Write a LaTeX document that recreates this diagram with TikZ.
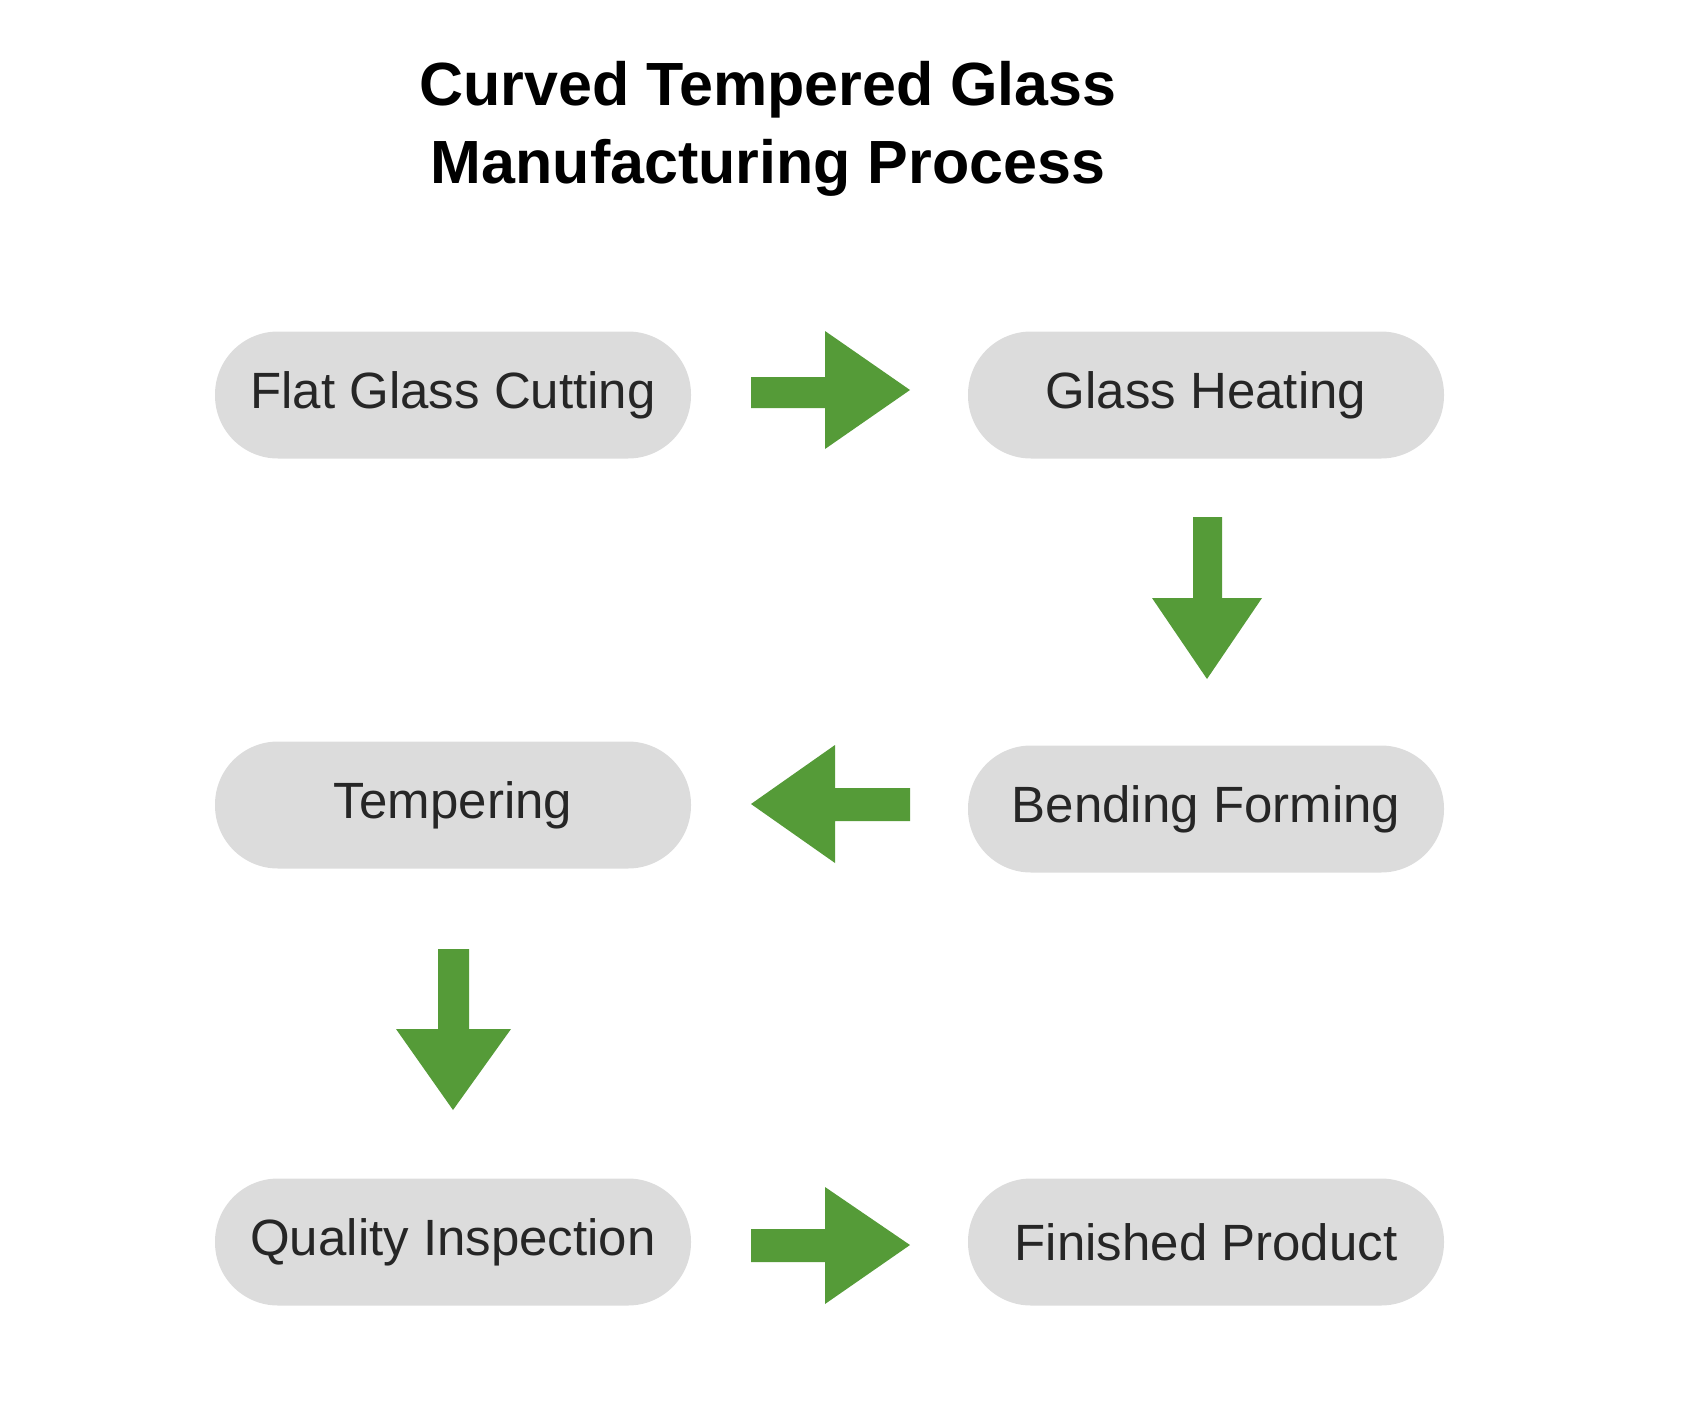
\documentclass[tikz,border=0pt]{standalone}
\usepackage{fontspec}
\setmainfont{Liberation Sans}
\begin{document}
\begin{tikzpicture}[x=1pt,y=-1pt,
  box/.style={fill=boxgray,draw=none,rounded corners=63pt,minimum width=476pt,minimum height=127pt,font=\fontsize{51}{55}\selectfont,text=black!85},
  blk/.style={fill=arrgreen,draw=none}]
\definecolor{boxgray}{HTML}{DCDCDC}
\definecolor{arrgreen}{HTML}{559B38}
\useasboundingbox (0,0) rectangle (1689,1400);
\begin{scope}[xshift=-5pt]
\node[font=\bfseries\fontsize{61}{78}\selectfont,align=center] (title) at (773,129) {Curved Tempered Glass\\Manufacturing Process};
\node[box] (a) at (458,395) {Flat Glass Cutting};
\node[box] (b) at (1211,395) {Glass Heating};
\node[box] (c) at (1211,809) {Bending Forming};
\node[box] (d) at (458,805) {Tempering};
\node[box] (e) at (458,1242) {Quality Inspection};
\node[box] (f) at (1211,1242) {Finished Product};
\fill[blk] (756,377) -- (830,377) -- (830,331) -- (915,390) -- (830,449) -- (830,408) -- (756,408) -- cycle;
\fill[blk] (1198,517) -- (1227,517) -- (1227,598) -- (1267,598) -- (1212,679) -- (1157,598) -- (1198,598) -- cycle;
\fill[blk] (915,788) -- (840,788) -- (840,745) -- (756,804) -- (840,863) -- (840,821) -- (915,821) -- cycle;
\fill[blk] (443,949) -- (474,949) -- (474,1029) -- (516,1029) -- (458,1110) -- (401,1029) -- (443,1029) -- cycle;
\fill[blk] (756,1229) -- (830,1229) -- (830,1187) -- (915,1245) -- (830,1304) -- (830,1262) -- (756,1262) -- cycle;
\end{scope}
\end{tikzpicture}
\end{document}
